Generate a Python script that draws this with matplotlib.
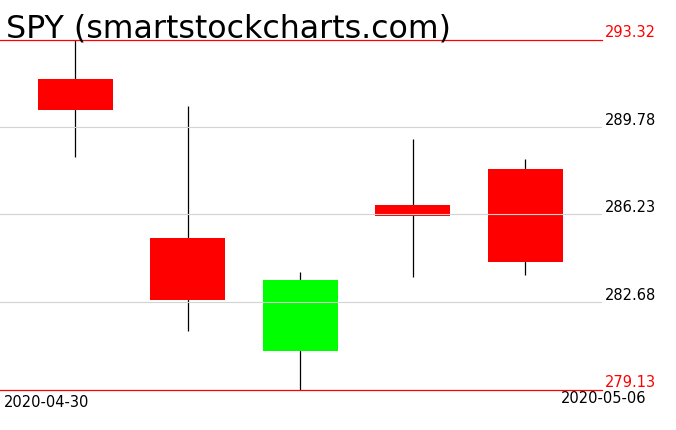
import matplotlib
matplotlib.use('Agg')
import matplotlib.pyplot as plt

plt.rcParams['font.family'] = ['DejaVu Sans']

# OHLC data for SPY
dates = ['2020-04-30', '2020-05-01', '2020-05-04', '2020-05-05', '2020-05-06']
opens = [291.70, 285.29, 280.71, 286.63, 288.05]
highs = [293.32, 290.64, 283.91, 289.27, 288.46]
lows = [288.56, 281.49, 279.13, 283.68, 283.76]
closes = [290.45, 282.75, 283.55, 286.16, 284.29]
level_labels = ['279.13', '282.68', '286.23', '289.78', '293.32']
level_values = [279.13, 282.68, 286.23, 289.78, 293.32]
title = 'SPY (smartstockcharts.com)'

W, H = 676, 431
fig = plt.figure(figsize=(W / 100, H / 100), dpi=100)
ax = fig.add_axes([0, 1 - 390.5 / H, 602 / W, 350 / H])

x = list(range(len(dates)))
colors = ['#00ff00' if c >= o else '#ff0000' for o, c in zip(opens, closes)]
body_bottom = [min(o, c) for o, c in zip(opens, closes)]
body_height = [abs(c - o) for o, c in zip(opens, closes)]

ax.vlines(x, lows, highs, color='black', lw=0.9, zorder=1)
ax.bar(x, body_height, bottom=body_bottom, width=0.667, color=colors, zorder=2)

ymin, ymax = min(level_values), max(level_values)
for v in level_values[1:-1]:
    ax.axhline(v, color='#d3d3d3', lw=0.8, zorder=3)
ax.axhline(ymin, color='red', lw=0.9, zorder=4, clip_on=False)
ax.axhline(ymax, color='red', lw=0.9, zorder=4, clip_on=False)

ax.set_xlim(-0.669, 4.682)
ax.set_ylim(ymin, ymax)
ax.axis('off')

trans = ax.get_yaxis_transform()
for v, s in zip(level_values, level_labels):
    c = 'red' if v in (ymin, ymax) else 'black'
    ax.text(605 / 602, v, s, transform=trans, ha='left', va='bottom',
            fontsize=10.5, color=c)

fig.text(4 / W, 1 - 395 / H, dates[0], ha='left', va='top', fontsize=10.5)
fig.text(646 / W, 1 - 391 / H, dates[-1], ha='right', va='top', fontsize=10.5)
fig.text(6 / W, 1 - 37 / H, title, ha='left', va='baseline', fontsize=22.8,
         color='black')

fig.savefig('out.png', dpi=100)
